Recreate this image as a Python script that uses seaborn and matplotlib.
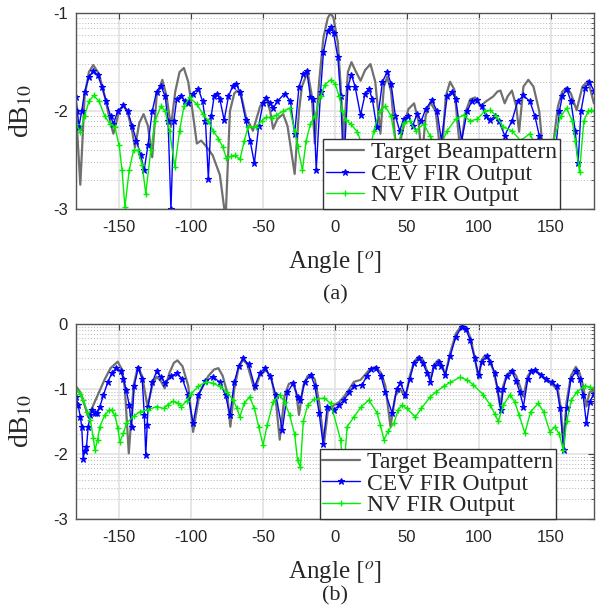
import numpy as np
import matplotlib
matplotlib.use("Agg")
import matplotlib.pyplot as plt
import matplotlib.ticker as mticker
import seaborn as sns

sns.set_style("whitegrid")
plt.rcParams["font.family"] = ["Liberation Sans", "DejaVu Sans"]
plt.rcParams["mathtext.fontset"] = "stix"
plt.rcParams["axes.unicode_minus"] = False

# ---------------- data (values in log10 units) ----------------
# panel (a)
a_tgt_ang = [-180, -177, -174, -171, -168, -164, -160, -156, -154, -150, -147, -144, -141, -139, -136, -133,
             -130, -127, -124, -120, -117, -114, -111, -108, -105, -102, -99, -96, -93, -90, -85, -80, -76,
             -73, -70, -68, -65, -62, -57, -52, -48, -45, -43, -40, -36, -33, -28, -25, -23, -19, -16, -14,
             -11, -8, -5, -3, -1, 2, 4, 6, 9, 11.5, 14, 17.8, 21, 24.7, 28, 31.6, 34, 36.3, 39, 43, 47, 51,
             55, 58, 60.5, 63, 66.3, 70, 74, 77, 80, 83, 87, 91, 94, 97.5, 101, 105, 110, 113, 115, 118, 120,
             123, 126, 128, 131, 134.4, 138, 142, 147, 152, 155, 158, 161, 164, 168, 172, 176, 180]
a_tgt_val = [-2.00, -2.75, -1.85, -1.60, -1.53, -1.62, -1.85, -2.12, -2.23, -2.00, -1.94, -2.02, -2.20, -2.37,
             -2.12, -2.03, -2.15, -2.47, -1.85, -1.68, -1.85, -2.16, -1.80, -1.60, -1.56, -1.70, -2.00, -2.33,
             -2.30, -2.35, -2.45, -2.65, -3.10, -2.00, -1.82, -1.79, -1.85, -2.05, -2.20, -1.95, -1.86, -2.00,
             -2.18, -2.08, -2.03, -2.15, -2.64, -2.00, -1.75, -1.60, -1.85, -2.33, -1.70, -1.25, -1.05, -1.00,
             -1.05, -1.30, -1.75, -2.30, -1.60, -1.50, -1.58, -1.69, -1.58, -1.52, -1.70, -2.23, -1.75, -1.65,
             -1.80, -2.47, -2.20, -1.98, -1.92, -2.10, -2.50, -2.05, -1.91, -2.00, -2.50, -1.85, -1.70, -1.78,
             -2.40, -2.00, -1.88, -1.86, -1.95, -1.90, -1.85, -1.80, -1.79, -1.92, -1.85, -1.79, -1.95, -2.21,
             -1.75, -1.68, -1.75, -2.00, -2.80, -2.30, -1.95, -1.80, -1.76, -1.82, -1.99, -1.75, -1.69, -1.92]

a_cev_ang = [-180, -179, -178, -176, -174, -171, -168, -165, -162, -159, -156, -154, -151, -147, -144, -141,
             -138, -135, -132.6, -130, -127, -124, -121, -118, -116, -114, -112, -110, -107, -104, -102, -99,
             -95, -92, -90, -88, -86, -84, -82, -80, -77, -74, -71, -69, -66, -62, -59, -56, -53, -50, -47.7,
             -45, -43, -40, -35, -31, -28, -25, -22, -19.6, -17, -15, -13, -10, -8, -5, -3, -1, 2, 4, 6, 9,
             11.5, 14, 17.8, 21, 23.6, 26, 29, 33, 36.3, 39, 42, 45, 47.8, 51, 54, 57, 60, 63, 67.4, 71, 74,
             78, 81.3, 84, 88, 92, 95, 98.6, 102, 105, 108, 111, 114, 118, 123, 127, 131, 135.5, 139, 142,
             147, 152, 156, 158, 161, 164, 167, 169, 171, 174, 176.7, 180]
a_cev_val = [-1.86, -2.00, -2.16, -2.00, -1.80, -1.65, -1.59, -1.63, -1.75, -1.90, -2.05, -2.13, -2.00, -1.94,
             -2.00, -2.15, -2.30, -2.45, -2.60, -2.35, -2.00, -1.80, -1.74, -1.85, -2.10, -3.00, -2.10, -1.88,
             -1.85, -1.90, -1.92, -1.82, -1.77, -1.90, -2.10, -2.69, -2.05, -1.85, -1.82, -1.88, -2.09, -1.85,
             -1.74, -1.72, -1.80, -2.09, -2.30, -2.53, -2.15, -1.92, -1.87, -1.92, -1.97, -1.90, -1.82, -1.90,
             -2.23, -1.75, -1.62, -1.59, -1.86, -1.88, -2.60, -1.80, -1.40, -1.18, -1.14, -1.20, -1.45, -1.85,
             -2.60, -1.75, -1.63, -1.75, -2.04, -1.82, -1.77, -1.88, -2.16, -1.70, -1.60, -1.72, -2.05, -2.20,
             -2.08, -2.05, -2.15, -2.03, -2.10, -1.98, -1.89, -2.00, -2.30, -1.85, -1.80, -1.88, -2.30, -2.00,
             -1.90, -1.89, -1.95, -2.05, -2.09, -2.05, -2.10, -2.25, -2.10, -1.90, -1.84, -1.90, -2.05, -2.25,
             -2.70, -2.60, -2.00, -1.85, -1.77, -1.90, -2.20, -2.53, -2.00, -1.76, -1.70, -1.79]

a_nv_ang = [-180, -177, -174, -171, -167.6, -164, -160, -156.5, -153, -150, -148, -146, -143, -140, -137, -134,
            -131.5, -128, -125, -121, -118, -115, -111.3, -108, -105, -101, -96, -91.7, -88, -84.7, -81, -77.8,
            -75.5, -72, -69.7, -66, -63, -60.4, -55, -51, -47.7, -44, -40.8, -36, -31.5, -28, -26, -22.6, -20,
            -17, -14, -10, -7, -3, 0, 3, 5, 7.4, 10.9, 15.5, 19, 23, 27, 31, 35, 39, 43, 47.8, 52, 56, 61.7,
            66, 72, 78, 84, 89.4, 94, 99, 104, 108, 112, 117, 123, 129, 135.5, 141, 146, 152, 157, 161, 165,
            167, 170, 173, 176, 178, 180]
a_nv_val = [-2.13, -2.21, -2.05, -1.90, -1.84, -1.90, -2.05, -2.13, -2.16, -2.35, -2.60, -2.98, -2.60, -2.40,
            -2.40, -2.55, -2.84, -2.40, -2.10, -1.95, -2.00, -2.20, -2.57, -2.20, -1.95, -1.86, -1.93, -2.03,
            -2.10, -2.20, -2.28, -2.37, -2.48, -2.46, -2.45, -2.49, -2.30, -2.16, -2.16, -2.10, -2.06, -2.07,
            -2.04, -2.00, -1.97, -2.20, -2.36, -2.60, -2.30, -2.13, -2.05, -1.85, -1.73, -1.68, -1.72, -1.85,
            -2.00, -2.09, -2.13, -2.21, -2.35, -2.50, -2.20, -2.00, -1.95, -2.05, -2.40, -2.12, -2.10, -2.20,
            -2.13, -2.25, -2.40, -2.20, -2.08, -2.04, -2.10, -2.08, -2.00, -1.99, -2.05, -2.16, -2.20, -2.30,
            -2.23, -2.40, -2.70, -2.30, -2.05, -1.97, -2.10, -2.30, -2.62, -2.10, -2.00, -1.99, -2.00]

# panel (b)
b_tgt_ang = [-180, -177, -174, -171.5, -168, -164, -160, -156, -151, -148, -146, -143.3, -140, -137, -134,
             -130.3, -127, -124, -121, -118.3, -115, -112, -109.5, -106, -102, -98.6, -94, -88, -84, -81, -78,
             -75, -72.7, -70, -67, -64, -61, -58, -55.8, -52, -47.7, -44, -41, -38.4, -35, -32, -29, -27, -25,
             -22, -19, -16.9, -14, -11, -7.6, -5, -0.7, 3, 6.2, 10, 13.2, 17.8, 21, 24, 28.2, 32, 35, 38.6,
             42, 45.5, 49, 52, 55, 58.2, 61, 64, 66.3, 69, 72, 74, 76.7, 80, 84, 88.2, 91, 94, 97, 99.8, 102,
             104.4, 107, 110, 112.5, 114.8, 117, 119.5, 122.9, 126, 128.5, 131, 134, 136.5, 139, 143, 147,
             151, 155, 157, 158.7, 161, 164, 167.4, 170, 172.5, 174.8, 177, 180]
b_tgt_val = [-0.96, -1.05, -1.25, -1.43, -1.25, -1.05, -0.85, -0.68, -0.58, -0.70, -1.00, -1.99, -0.95, -0.66,
             -0.80, -1.27, -0.95, -0.81, -0.88, -0.99, -0.75, -0.60, -0.56, -0.65, -0.95, -1.66, -1.05, -0.80,
             -0.70, -0.68, -0.80, -1.05, -1.58, -1.00, -0.68, -0.55, -0.62, -0.85, -1.02, -0.78, -0.71, -0.85,
             -1.20, -1.78, -1.10, -0.92, -0.91, -1.05, -1.40, -0.95, -0.80, -0.78, -0.85, -1.20, -1.84, -1.35,
             -1.25, -1.20, -1.12, -1.00, -0.89, -0.86, -0.78, -0.70, -0.66, -0.75, -0.95, -1.58, -1.10, -1.00,
             -1.14, -0.80, -0.58, -0.50, -0.55, -0.72, -0.86, -0.62, -0.55, -0.62, -0.78, -0.45, -0.15, -0.015,
             -0.05, -0.20, -0.50, -0.84, -0.55, -0.48, -0.55, -0.70, -0.95, -1.27, -0.95, -0.78, -0.71, -0.80,
             -0.95, -1.12, -0.80, -0.72, -0.71, -0.78, -0.87, -0.93, -1.02, -1.30, -1.84, -1.20, -0.80, -0.66,
             -0.75, -0.95, -1.27, -1.05, -1.02]

b_cev_ang = [-180, -178.5, -177, -176, -175, -174, -172.7, -171.5, -170, -169, -167, -165.7, -163.4, -161,
             -158, -155, -151.9, -149, -147, -145, -143, -141.4, -139.5, -136.8, -134, -132.5, -131.5, -130.5,
             -129.9, -127, -124, -121, -118, -114, -110, -106, -102, -98.6, -95, -90, -84.7, -80, -76, -73,
             -70, -67, -64, -60, -55.8, -52, -48.8, -45, -41, -36.6, -33, -29, -26, -24, -21, -16.9, -14, -11,
             -8.3, -5.3, -0.7, 3, 6.2, 10, 13.2, 18.9, 22, 25, 28.2, 32, 35, 39.7, 43, 45.5, 49, 52, 55, 58.2,
             61, 64, 66.3, 69, 72, 74, 76.7, 80, 84, 88.2, 91, 94, 97, 99.8, 102, 105.5, 108, 111, 113, 115.2,
             117, 119.5, 122.9, 126, 128.5, 131, 134, 136.5, 139, 143, 147, 151, 154, 156.5, 159, 161, 164,
             167.4, 170, 172.5, 174.8, 177, 180]
b_cev_val = [-1.12, -1.25, -1.43, -1.58, -2.07, -1.95, -1.89, -1.58, -1.40, -1.32, -1.37, -1.37, -1.27, -1.10,
             -0.90, -0.75, -0.68, -0.72, -0.85, -1.02, -1.25, -1.58, -0.95, -0.68, -0.85, -1.40, -2.02, -1.55,
             -1.27, -0.90, -0.73, -0.82, -0.91, -0.80, -0.76, -0.85, -1.10, -1.53, -1.10, -0.88, -0.81, -0.90,
             -1.10, -1.40, -0.90, -0.65, -0.53, -0.62, -0.96, -0.75, -0.68, -0.80, -1.10, -1.63, -1.05, -0.91,
             -1.12, -1.17, -0.90, -0.78, -0.95, -1.37, -1.84, -1.27, -1.32, -1.25, -1.17, -1.05, -0.96, -0.94,
             -0.80, -0.70, -0.68, -0.80, -1.05, -1.37, -1.00, -0.91, -1.09, -0.85, -0.60, -0.53, -0.60, -0.75,
             -0.89, -0.65, -0.58, -0.65, -0.78, -0.50, -0.20, -0.04, -0.08, -0.25, -0.52, -0.78, -0.58, -0.50,
             -0.58, -0.75, -1.00, -1.32, -1.00, -0.80, -0.73, -0.88, -1.05, -1.27, -0.85, -0.73, -0.71, -0.78,
             -0.85, -0.90, -0.96, -1.30, -1.94, -1.30, -0.85, -0.73, -0.85, -1.10, -1.53, -1.20, -1.07]

b_nv_ang = [-180, -177, -175, -172, -170, -168, -166.8, -165, -163.4, -160, -157, -155.3, -153, -151, -149.5,
            -147, -145, -140, -135.6, -130, -124, -119, -116, -112.5, -109, -106.7, -103, -99.8, -95, -89.4,
            -85, -80, -75, -70.8, -68, -66.2, -63, -59.3, -56, -53, -50, -47, -43, -38.4, -35, -31.5, -28,
            -26, -24, -22, -19, -14.5, -7.6, -3, 3.9, 6, 8.5, 13.2, 18, 23.6, 29.3, 31.5, 34, 37, 40.9, 44,
            46.7, 50, 55.9, 60, 66.3, 70, 75.5, 80, 87, 92, 96.3, 103.2, 108, 111, 113.6, 117, 121.7, 125,
            128, 132, 136, 141.3, 145, 149.4, 152.9, 156, 158.7, 161, 164.4, 168, 173.7, 177, 180]
b_nv_val = [-1.02, -1.08, -1.17, -1.35, -1.48, -1.75, -1.94, -1.78, -1.58, -1.40, -1.33, -1.32, -1.40, -1.60,
            -1.81, -1.68, -1.53, -1.42, -1.35, -1.32, -1.27, -1.30, -1.24, -1.19, -1.22, -1.27, -1.18, -1.07,
            -0.96, -0.89, -0.91, -0.96, -1.05, -1.17, -1.30, -1.43, -1.22, -1.12, -1.30, -1.58, -1.86, -1.55,
            -1.20, -1.09, -1.20, -1.40, -1.70, -2.10, -2.20, -1.50, -1.25, -1.16, -1.14, -1.22, -1.78, -2.30,
            -1.58, -1.43, -1.28, -1.17, -1.37, -1.55, -1.78, -1.65, -1.53, -1.32, -1.25, -1.30, -1.43, -1.30,
            -1.12, -1.05, -0.96, -0.90, -0.82, -0.86, -0.94, -1.09, -1.25, -1.38, -1.50, -1.25, -1.09, -1.20,
            -1.40, -1.68, -1.35, -1.22, -1.35, -1.66, -1.58, -1.70, -1.94, -1.50, -1.17, -1.05, -0.95, -0.97,
            -0.99]

SERIES_LABELS = ["Target Beampattern", "CEV FIR Output", "NV FIR Output"]
GRAY = "#707070"
BLUE = "#0000ff"
GREEN = "#00ee00"


def draw_panel(ax, tgt, cev, nv, ymin, ymax, legend_right):
    sns.lineplot(x=tgt[0], y=10.0 ** np.array(tgt[1]), ax=ax, color=GRAY, linewidth=1.6,
                 label=SERIES_LABELS[0], sort=False)
    sns.lineplot(x=cev[0], y=10.0 ** np.array(cev[1]), ax=ax, color=BLUE, linewidth=1.0,
                 marker="*", markersize=4.5, markeredgewidth=0.8, markeredgecolor=BLUE,
                 label=SERIES_LABELS[1], sort=False)
    sns.lineplot(x=nv[0], y=10.0 ** np.array(nv[1]), ax=ax, color=GREEN, linewidth=1.0,
                 marker="+", markersize=5, markeredgewidth=1.0, markeredgecolor=GREEN,
                 label=SERIES_LABELS[2], sort=False)
    ax.set_yscale("log")
    ax.set_xlim(-180, 180)
    ax.set_ylim(10.0 ** ymin, 10.0 ** ymax)
    ax.set_xticks([-150, -100, -50, 0, 50, 100, 150])
    ax.yaxis.set_major_locator(mticker.LogLocator(base=10))
    ax.yaxis.set_minor_locator(mticker.LogLocator(base=10, subs=np.arange(2, 10)))
    ax.yaxis.set_major_formatter(mticker.FuncFormatter(lambda v, p: f"{int(round(np.log10(v)))}"))
    ax.yaxis.set_minor_formatter(mticker.NullFormatter())
    ax.grid(which="major", color="#e2e2e2", linewidth=1.2, linestyle="-")
    ax.grid(which="minor", axis="y", color="#b5b5b5", linewidth=0.7, linestyle=(0, (1, 2)))
    ax.tick_params(which="both", direction="in", top=True, right=True, labelsize=12,
                   color="#444444")
    ax.tick_params(axis="x", pad=8)
    ax.tick_params(axis="y", pad=6)
    ax.tick_params(which="major", length=4)
    ax.tick_params(which="minor", length=2)
    for s in ax.spines.values():
        s.set_color("#555555")
        s.set_linewidth(1.0)
    ax.set_xlabel(r"Angle $[^o]$", family="Liberation Serif", fontsize=18, labelpad=10)
    ax.set_ylabel(r"dB$_{10}$", family="Liberation Serif", fontsize=20, labelpad=13)
    leg = ax.legend(loc="lower right", bbox_to_anchor=(legend_right, 0.0), borderaxespad=0,
                    prop={"family": "Liberation Serif", "size": 17}, frameon=True, fancybox=False,
                    framealpha=1, edgecolor="#333333", labelspacing=0.0, handlelength=1.6,
                    handletextpad=0.3, borderpad=0.12, numpoints=1)
    leg.get_frame().set_linewidth(1.0)


fig = plt.figure(figsize=(5.96, 6.10), dpi=100)
ax_a = fig.add_axes([0.1275, 0.657, 0.869, 0.3215])
ax_b = fig.add_axes([0.1275, 0.1492, 0.869, 0.3197])

draw_panel(ax_a, (a_tgt_ang, a_tgt_val), (a_cev_ang, a_cev_val), (a_nv_ang, a_nv_val), -3, -1, 0.934)
draw_panel(ax_b, (b_tgt_ang, b_tgt_val), (b_cev_ang, b_cev_val), (b_nv_ang, b_nv_val), -3, 0, 0.927)

fig.text(0.562, 0.517, "(a)", family="Liberation Serif", fontsize=16, ha="center", va="center")
fig.text(0.562, 0.023, "(b)", family="Liberation Serif", fontsize=16, ha="center", va="center")

fig.savefig("out.png", dpi=100)
